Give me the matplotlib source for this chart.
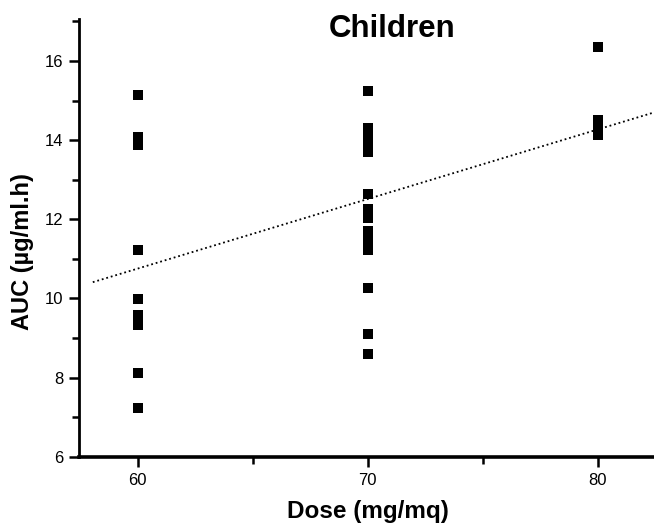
import matplotlib
matplotlib.use("Agg")
import matplotlib.pyplot as plt
from matplotlib.ticker import MultipleLocator

plt.rcParams['font.family'] = ['Liberation Sans', 'DejaVu Sans']

# Data
dose_60 = [15.14, 14.07, 13.87, 11.22, 9.99, 9.58, 9.33, 8.12, 7.23]
dose_70 = [15.25, 14.31, 14.08, 13.88, 13.70, 12.64, 12.27, 12.02, 11.70,
           11.45, 11.22, 10.26, 9.11, 8.60]
dose_80 = [16.34, 14.51, 14.26, 14.13]
doses = [60, 70, 80]
fit_x = [58.05, 82.4]
fit_y = [10.41, 14.69]

title = "Children"
xlabel = "Dose (mg/mq)"
ylabel = "AUC (\u00b5g/ml.h)"

fig = plt.figure(figsize=(6.54, 5.24), dpi=100)
ax = fig.add_axes([79/654, (524-456.7)/524, 1 - 79/654, (456.7-19)/524])

for d, vals in zip(doses, [dose_60, dose_70, dose_80]):
    ax.plot([d]*len(vals), vals, linestyle='none', marker='s', markersize=6.5,
            color='black', markeredgewidth=0, clip_on=False)

ax.plot(fit_x, fit_y, color='black', linewidth=1.3, linestyle=(0, (1, 1.6)))

ax.set_xlim(57.45, 82.45)
ax.set_ylim(6, 17.06)

ax.xaxis.set_major_locator(MultipleLocator(10))
ax.xaxis.set_minor_locator(MultipleLocator(5))
ax.yaxis.set_major_locator(MultipleLocator(2))
ax.yaxis.set_minor_locator(MultipleLocator(1))

for s in ['top', 'right']:
    ax.spines[s].set_visible(False)
ax.spines['left'].set_linewidth(2)
ax.spines['bottom'].set_linewidth(2.6)

ax.tick_params(which='major', direction='out', length=7.5, width=1.8,
               labelsize=12, color='black')
ax.tick_params(which='minor', direction='out', length=5, width=1.8, color='black')
ax.tick_params(axis='x', which='major', pad=4)
ax.tick_params(axis='y', which='major', pad=4)

ax.set_xlabel(xlabel, fontsize=17.5, fontweight='bold')
ax.set_ylabel(ylabel, fontsize=17, fontweight='bold')
ax.xaxis.set_label_coords((368-79)/575, (456.7-500)/437.7)
ax.yaxis.set_label_coords((34-79)/575, (456.7-252)/437.7)

ax.text(71.07, 16.61, title, fontsize=22.5, fontweight='bold', ha='center',
        va='baseline')

fig.savefig("out.png", dpi=100)
